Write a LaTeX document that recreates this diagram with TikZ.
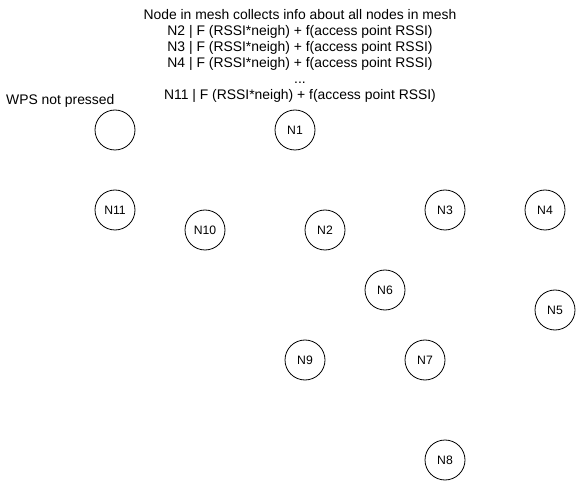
\documentclass[tikz,border=0pt]{standalone}
\usepackage{fontspec}
\setmainfont{Liberation Sans}
\begin{document}
\begin{tikzpicture}[x=1pt,y=-1pt,
    mnode/.style={draw,circle,line width=0.8pt,minimum size=40pt,inner sep=0pt,font=\fontsize{12.2}{14}\selectfont}]
        \useasboundingbox (0,0) rectangle (576,481);
        % заголовок
        \node[align=center,font=\fontsize{13.9}{16}\selectfont] (title) at (300,56) {Node in mesh collects info about all nodes in mesh\\
            N2 | F (RSSI*neigh) + f(access point RSSI)\\
            N3 | F (RSSI*neigh) + f(access point RSSI)\\
            N4 | F (RSSI*neigh) + f(access point RSSI)\\
            ...\\
            N11 | F (RSSI*neigh) + f(access point RSSI)};
        \node[anchor=west,inner sep=0pt,font=\fontsize{13.9}{16}\selectfont] (wps) at (6,101) {WPS not pressed};
        % узлы
        \node[mnode] (n0) at (115,130) {};
        \node[mnode] (n1) at (295,130) {N1};
        \node[mnode] (n11) at (115,210) {N11};
        \node[mnode] (n10) at (205,230) {N10};
        \node[mnode] (n2) at (325,230) {N2};
        \node[mnode] (n3) at (445,210) {N3};
        \node[mnode] (n4) at (545,210) {N4};
        \node[mnode] (n6) at (385,290) {N6};
        \node[mnode] (n5) at (555,310) {N5};
        \node[mnode] (n9) at (305,360) {N9};
        \node[mnode] (n7) at (425,360) {N7};
        \node[mnode] (n8) at (445,460) {N8};
\end{tikzpicture}
\end{document}
